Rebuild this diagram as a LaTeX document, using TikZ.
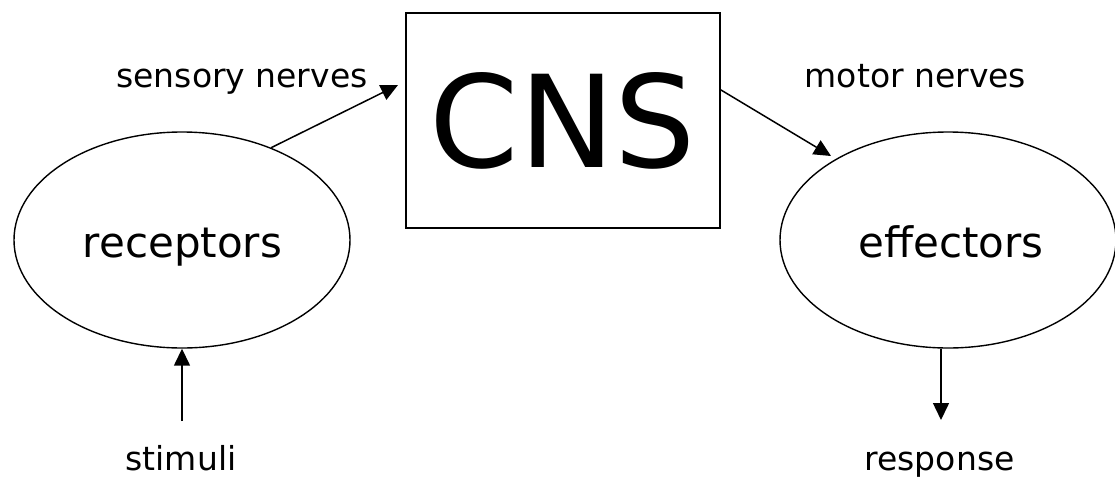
\documentclass[tikz,border=0pt]{standalone}
\usepackage{fontspec}
\setmainfont{DejaVu Sans}
\usetikzlibrary{shapes.geometric,arrows.meta}
\tikzset{
  blob/.style={draw, ellipse, line width=1.4pt, minimum width=336pt, minimum height=216pt, inner sep=0pt},
  box/.style={draw, rectangle, line width=1.5pt, minimum width=314pt, minimum height=215pt, inner sep=0pt, font=\fontsize{128}{140}\selectfont},
  lbl/.style={anchor=base, inner sep=0pt, font=\fontsize{33}{40}\selectfont},
  inlbl/.style={anchor=base, inner sep=0pt, font=\fontsize{42}{50}\selectfont},
  arr/.style={line width=1.5pt, -{Triangle[length=17pt,width=16pt]}}
}
\begin{document}
\begin{tikzpicture}[x=1pt,y=-1pt]
\useasboundingbox (0,0) rectangle (1115,477);
\node[box] (cns) at (563,120.5) {CNS};
\node[blob] (rec) at (182,240) {};
\node[blob] (eff) at (948,240) {};
\node[inlbl] (rectext) at (182.5,257) {receptors};
\node[inlbl] (efftext) at (951,257) {effectors};
\node[lbl] (sens) at (242,87) {sensory nerves};
\node[lbl] (mot) at (915.5,87) {motor nerves};
\node[lbl] (stim) at (181,470) {stimuli};
\node[lbl] (resp) at (939.5,470) {response};
\coordinate (sntip) at (398,85);
\coordinate (mntip) at (831,156);
\coordinate (stimtail) at (182,421);
\coordinate (resptip) at (941,420);
\draw[arr] (rec.46) -- (sntip);
\draw[arr] (cns.11.7) -- (mntip);
\draw[arr] (stimtail) -- (rec.south);
\draw[arr] (resptip |- eff.south) -- (resptip);
\end{tikzpicture}
\end{document}
